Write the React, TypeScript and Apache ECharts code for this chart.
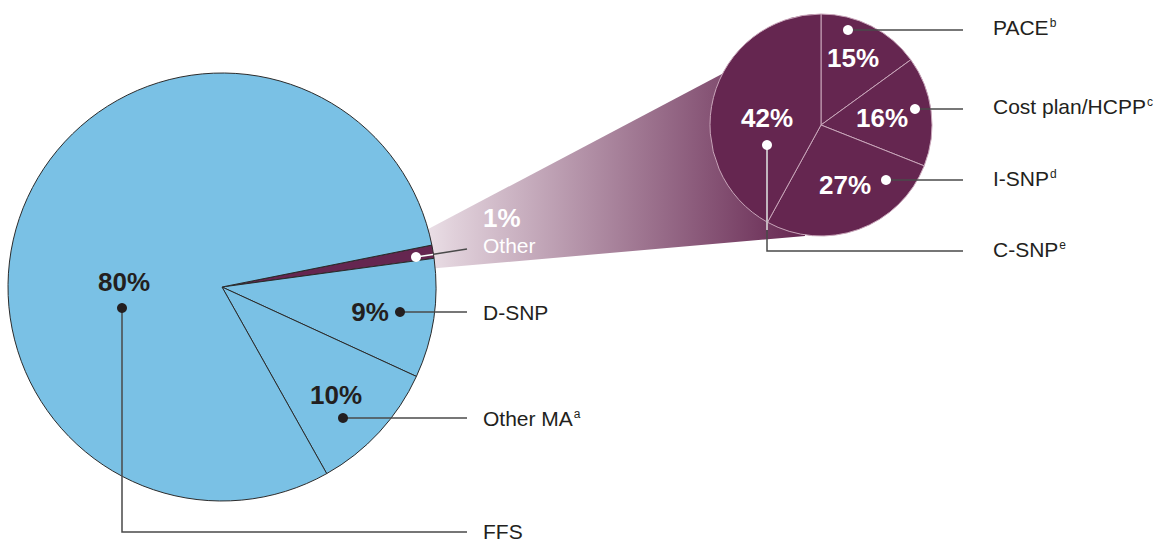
import React, { useEffect, useRef } from "react";
import * as echarts from "echarts";

// ---- data ----
const mainCategories = ["Other", "D-SNP", "Other MA", "FFS"];
const mainValues = [1, 9, 10, 80];
const mainNotes = ["", "", "a", ""];
const otherCategories = ["PACE", "Cost plan/HCPP", "I-SNP", "C-SNP"];
const otherValues = [15, 16, 27, 42];
const otherNotes = ["b", "c", "d", "e"];

// ---- layout (pixels) ----
const FONT = "'Liberation Sans', Arial, Helvetica, sans-serif";
const TEXT = "#231f20";
const LINE = "#4a4a4a";
const BLUE = "#7ac1e5";
const PURPLE = "#652650";

const mainCenter = [222, 287];
const mainRadius = 214;
const otherCenter = [821, 125];
const otherRadius = 111;

// percentage text, dot, leader polyline (after dot), label position
const mainLayout = [
  { pct: [483, 218], align: "left", dot: [416, 257], path: [[467, 249]], label: [483, 245], white: true },
  { pct: [370, 312], align: "center", dot: [400, 312], path: [[467, 312]], label: [483, 312] },
  { pct: [336, 395], align: "center", dot: [343, 418], path: [[467, 418]], label: [483, 418] },
  { pct: [124, 282], align: "center", dot: [122, 308], path: [[122, 532], [467, 532]], label: [483, 531] },
];
const otherLayout = [
  { pct: [853, 58], dot: [848, 30], path: [[963, 30]], label: [993, 27] },
  { pct: [882, 118], dot: [915, 109], path: [[963, 109]], label: [993, 106] },
  { pct: [845, 185], dot: [886, 180], path: [[963, 180]], label: [993, 178] },
  { pct: [767, 118], dot: [767, 145], path: [[767, 251], [963, 251]], label: [993, 249] },
];

function labelText(name: string, note: string) {
  return note ? `{n|${name}}{s|${note}}` : `{n|${name}}`;
}
const richStyles = {
  n: { fontSize: 21, fontFamily: FONT, fill: TEXT, color: TEXT },
  s: { fontSize: 12, fontFamily: FONT, fill: TEXT, color: TEXT, padding: [0, 0, 9, 1] },
};

export default function App() {
  const ref = useRef<HTMLDivElement>(null);
  useEffect(() => {
    document.body.style.margin = "0";
    const chart = echarts.init(ref.current!, null, { renderer: "svg" });
    const graphics: any[] = [];

    // funnel connecting "Other" slice to the breakdown pie
    graphics.push({
      type: "polygon",
      z: 0,
      shape: { points: [[415, 236], [805, 30], [805, 236], [415, 270]] },
      style: {
        fill: new echarts.graphic.LinearGradient(0, 0, 1, 0, [
          { offset: 0, color: "#efe6ec" },
          { offset: 0.1, color: "#e0d0da" },
          { offset: 1, color: PURPLE },
        ]),
      },
    });

    // main pie annotations
    mainCategories.forEach((name, i) => {
      const L = mainLayout[i];
      const white = !!L.white;
      const pts = [L.dot, ...L.path];
      graphics.push({
        type: "polyline",
        z: 10,
        shape: { points: pts },
        style: { stroke: LINE, lineWidth: 1.5, fill: null },
      });
      if (white) {
        graphics.push({
          type: "line",
          z: 11,
          shape: { x1: L.dot[0], y1: L.dot[1], x2: 433, y2: 254.5 },
          style: { stroke: "#ffffff", lineWidth: 1.5 },
        });
      }
      graphics.push({
        type: "circle",
        z: 12,
        shape: { cx: L.dot[0], cy: L.dot[1], r: 5 },
        style: { fill: white ? "#ffffff" : TEXT },
      });
      graphics.push({
        type: "text",
        z: 12,
        x: L.pct[0],
        y: L.pct[1],
        style: {
          text: `${mainValues[i]}%`,
          font: `bold 26px ${FONT}`,
          fill: white ? "#ffffff" : TEXT,
          align: L.align,
          verticalAlign: "middle",
        },
      });
      graphics.push({
        type: "text",
        z: 12,
        x: L.label[0],
        y: L.label[1],
        style: white
          ? { text: name, font: `21px ${FONT}`, fill: "#ffffff", align: "left", verticalAlign: "middle" }
          : {
              text: labelText(name, mainNotes[i]),
              rich: richStyles,
              align: "left",
              verticalAlign: "middle",
            },
      });
    });

    // breakdown pie annotations
    otherCategories.forEach((name, i) => {
      const L = otherLayout[i];
      const pts = [L.dot, ...L.path];
      graphics.push({
        type: "polyline",
        z: 10,
        shape: { points: pts },
        style: { stroke: LINE, lineWidth: 1.5, fill: null },
      });
      if (i === 3) {
        graphics.push({
          type: "line",
          z: 11,
          shape: { x1: L.dot[0], y1: L.dot[1], x2: L.dot[0], y2: 230 },
          style: { stroke: "#e8dde4", lineWidth: 1.5 },
        });
      }
      graphics.push({
        type: "circle",
        z: 12,
        shape: { cx: L.dot[0], cy: L.dot[1], r: 5 },
        style: { fill: "#ffffff" },
      });
      graphics.push({
        type: "text",
        z: 12,
        x: L.pct[0],
        y: L.pct[1],
        style: {
          text: `${otherValues[i]}%`,
          font: `bold 26px ${FONT}`,
          fill: "#ffffff",
          align: "center",
          verticalAlign: "middle",
        },
      });
      graphics.push({
        type: "text",
        z: 12,
        x: L.label[0],
        y: L.label[1],
        style: {
          text: labelText(name, otherNotes[i]),
          rich: richStyles,
          align: "left",
          verticalAlign: "middle",
        },
      });
    });

    chart.setOption({
      animation: false,
      backgroundColor: "#ffffff",
      series: [
        {
          type: "pie",
          center: mainCenter,
          radius: mainRadius,
          startAngle: 11.3,
          clockwise: true,
          silent: true,
          label: { show: false },
          labelLine: { show: false },
          data: mainCategories.map((name, i) => ({
            name,
            value: mainValues[i],
            itemStyle: { color: i === 0 ? PURPLE : BLUE },
          })),
          itemStyle: { borderColor: "#2b2b2b", borderWidth: 1 },
        },
        {
          type: "pie",
          center: otherCenter,
          radius: otherRadius,
          startAngle: 90,
          clockwise: true,
          silent: true,
          label: { show: false },
          labelLine: { show: false },
          data: otherCategories.map((name, i) => ({ name, value: otherValues[i] })),
          itemStyle: { color: PURPLE, borderColor: "#c9a6ba", borderWidth: 1 },
        },
      ],
      graphic: { elements: graphics },
    });
    return () => chart.dispose();
  }, []);
  return <div ref={ref} style={{ width: 1175, height: 542 }} />;
}
